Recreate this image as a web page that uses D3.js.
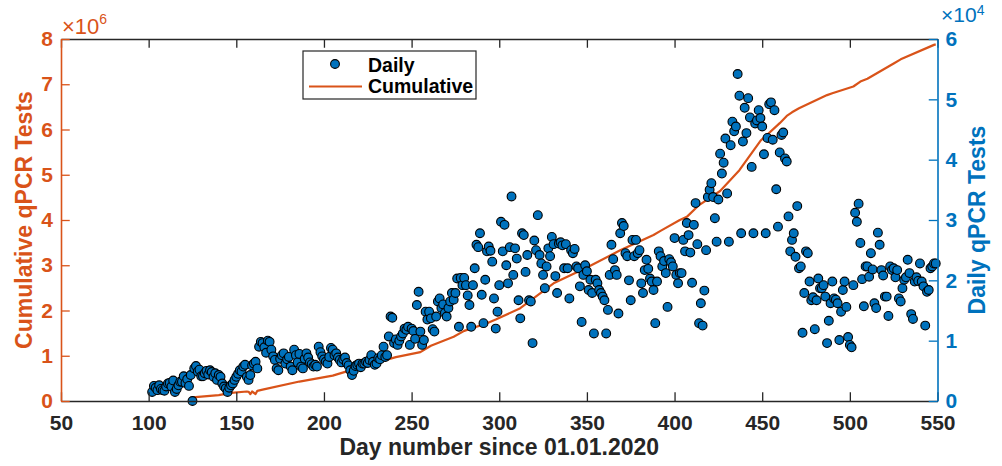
<!DOCTYPE html>
<html>
<head>
<meta charset="utf-8">
<script src="https://cdn.jsdelivr.net/npm/d3@7"></script>
<style>
  body { margin: 0; background: #fff; }
  svg { font-family: "Liberation Sans", Arial, sans-serif; }
</style>
</head>
<body>
<script>
// daily qPCR tests (thousands), one value per day starting at day 102
const dailyStartDay = 102;
const dailyK = [
  1.5,
  2.5, 2.2, 1.8, 2.6, 2.0, 1.8, 1.7,
  2.4, 2.9, 3.0, 2.4, 3.4, 1.5, 2.0,
  2.6, 3.2, 3.2, 4.1, 3.0, 3.6, 2.5,
  4.3, 0.0, 5.4, 5.8, 4.9, 5.2, 4.1,
  4.1, 4.6, 5.0, 4.4, 5.1, 4.8, 4.0,
  4.6, 3.5, 4.3, 4.0, 2.9, 2.4, 2.1,
  1.5, 2.2, 2.6, 2.9, 3.5, 4.0, 4.5,
  5.1, 4.9, 5.7, 6.0, 4.0, 3.5, 4.3,
  5.9, 6.2, 6.5, 5.4, 9.0, 9.8, 9.6,
  8.9, 8.0, 10.0, 9.8, 8.5, 7.4, 6.8,
  5.4, 5.1, 7.0, 7.6, 7.9, 6.2, 6.9,
  7.3, 5.7, 5.1, 8.5, 7.6, 6.4, 7.8,
  5.7, 5.4, 7.0, 7.9, 7.2, 6.4, 6.1,
  5.7, 6.0, 5.7, 9.0, 8.1, 7.4, 6.9,
  6.5, 6.2, 7.3, 8.8, 8.5, 7.6, 7.9,
  7.2, 6.8, 6.4, 6.9, 7.2, 6.3, 5.9,
  5.1, 4.3, 5.0, 5.8, 6.0, 6.2, 5.6,
  6.2, 6.2, 6.5, 6.3, 6.8, 7.6, 6.5,
  6.0, 6.2, 7.1, 6.9, 7.6, 9.0, 7.3,
  7.6, 10.7, 14.0, 13.8, 9.6, 10.2, 9.3,
  10.0, 10.7, 11.2, 12.0, 11.8, 12.3, 9.3,
  12.0, 11.6, 10.3, 15.9, 18.1, 11.5, 9.3,
  10.1, 14.8, 13.5, 14.8, 13.7, 11.9, 11.5,
  14.0, 16.5, 17.0, 15.4, 16.0, 14.6, 14.0,
  15.4, 16.5, 17.9, 16.8, 17.9, 20.3, 12.3,
  20.4, 19.2, 20.4, 19.2, 17.5, 15.9, 12.3,
  19.2, 22.0, 25.9, 25.5, 27.8, 17.6, 12.9,
  20.1, 24.8, 25.6, 24.9, 23.1, 17.0, 12.0,
  14.8, 19.2, 29.7, 24.8, 29.2, 22.5, 19.5,
  25.5, 33.9, 20.9, 25.3, 23.6, 16.7, 13.7,
  27.8, 27.5, 21.4, 24.2, 16.7, 16.5, 9.6,
  26.6, 25.0, 30.8, 24.2, 22.8, 20.9, 18.7,
  22.3, 25.3, 24.0, 27.2, 26.0, 20.7, 17.9,
  26.1, 26.3, 25.8, 22.0, 26.0, 22.0, 17.0,
  25.0, 24.5, 25.2, 22.3, 22.0, 19.0, 13.1,
  20.9, 22.5, 21.5, 18.4, 20.1, 17.9, 11.2,
  20.1, 19.5, 18.4, 17.9, 17.3, 16.7, 11.2,
  15.1, 20.9, 25.9, 23.5, 21.7, 20.9, 14.5,
  27.8, 29.5, 29.0, 24.5, 24.0, 20.0, 16.7,
  26.7, 24.0, 26.7, 24.5, 25.0, 19.5, 17.9,
  21.7, 23.4, 21.9, 20.3, 19.8, 18.4, 12.9,
  19.8, 24.8, 24.0, 22.3, 23.2, 21.2, 15.6,
  23.5, 23.0, 22.3, 27.0, 20.9, 19.5, 21.2,
  21.2, 26.7, 24.8, 29.5, 27.5, 24.6, 19.6,
  29.2, 32.8, 26.0, 12.9, 16.2, 12.5, 18.3,
  25.0, 33.8, 35.0, 36.1, 33.8, 30.3, 26.4,
  33.4, 41.0, 37.7, 39.5, 43.5, 34.4, 26.4,
  42.4, 46.3, 44.7, 45.5, 54.2, 50.6, 27.8,
  43.0, 48.6, 44.4, 50.2, 47.0, 38.8, 27.8,
  46.0, 46.5, 48.2, 46.9, 45.5, 40.9, 27.8,
  43.6, 49.2, 49.5, 43.3, 48.2, 35.1, 28.9,
  41.2, 44.1, 44.5, 40.2, 39.7, 30.6, 24.8,
  26.7, 27.8, 23.9, 32.3, 22.0, 22.3, 11.3,
  17.9, 24.8, 24.5, 19.8, 16.7, 17.2, 11.9,
  16.7, 20.3, 18.7, 18.7, 19.2, 17.3, 9.6,
  13.3, 16.2, 19.8, 17.0, 16.8, 16.2, 10.1,
  14.8, 18.4, 19.8, 15.6, 10.6, 9.3, 8.9,
  19.2, 31.2, 29.7, 32.7, 26.2, 20.2, 15.7,
  22.3, 22.3, 20.6, 24.5, 21.8, 16.2, 15.4,
  27.9, 25.9, 21.7, 20.8, 17.3, 17.3, 14.1,
  22.3, 21.7, 22.0, 20.5, 21.7, 17.0, 16.5,
  18.7, 20.1, 20.5, 23.4, 21.2, 14.4, 13.6,
  19.8, 20.5, 19.9, 22.8, 19.8, 19.0, 12.5,
  18.1, 18.4, 22.0, 22.3, 22.8, 22.8
];

// cumulative qPCR tests (millions)
const cumDays = [125, 140, 147, 156, 157, 158, 159, 161, 162, 165, 186, 205, 222, 241, 255, 261, 274, 280, 293, 298,
  312, 331, 350, 369, 388, 392, 403, 407, 414, 426, 437, 449, 460, 464, 467, 471, 487, 490, 502, 506, 510, 525, 529, 548, 549];
const cumM = [0.08, 0.13, 0.18, 0.21, 0.205, 0.15, 0.21, 0.155, 0.225, 0.25, 0.43, 0.56, 0.76, 0.97, 1.08, 1.22, 1.42, 1.55, 1.72, 1.80,
  2.05, 2.60, 2.95, 3.33, 3.67, 3.76, 4.00, 4.07, 4.33, 4.64, 5.10, 5.75, 6.14, 6.30, 6.38, 6.47, 6.76, 6.80, 6.95, 7.06, 7.12, 7.46, 7.55, 7.87, 7.88];

const xTicks = [50, 100, 150, 200, 250, 300, 350, 400, 450, 500, 550];
const leftTicks = [0, 1, 2, 3, 4, 5, 6, 7, 8];
const rightTicks = [0, 1, 2, 3, 4, 5, 6];

const orange = "#D95319", blue = "#0072BD", dark = "#262626";
const W = 1002, H = 466;
const L = 61, R = 937.5, T = 39, B = 401;
const tick = 8.75;

const svg = d3.select("body").append("svg")
  .attr("width", W).attr("height", H);

const x = d3.scaleLinear().domain([50, 550]).range([L, R]);
const yL = d3.scaleLinear().domain([0, 8e6]).range([B, T]);
const yR = d3.scaleLinear().domain([0, 6e4]).range([B, T]);

const daily = dailyK.map((v, i) => ({day: dailyStartDay + i, v: v * 1000}));
const cum = cumDays.map((d, i) => ({day: d, v: cumM[i] * 1e6}));

// cumulative line
const line = d3.line().x(d => x(d.day)).y(d => yL(d.v));
svg.append("path")
  .attr("d", line(cum))
  .attr("fill", "none")
  .attr("stroke", orange)
  .attr("stroke-width", 2.2)
  .attr("stroke-linejoin", "round");

// daily points
svg.append("g").selectAll("circle")
  .data(daily)
  .enter().append("circle")
  .attr("cx", d => x(d.day))
  .attr("cy", d => yR(d.v))
  .attr("r", 4.4)
  .attr("fill", blue)
  .attr("stroke", "#000")
  .attr("stroke-width", 1.1);

// axes
function styleAxis(g, color) {
  g.selectAll("path").attr("stroke", color).attr("stroke-width", 1.6);
  g.selectAll("line").attr("stroke", color).attr("stroke-width", 1.3);
  g.selectAll("text").attr("fill", color)
    .style("font-size", "21px").style("font-weight", "bold")
    .style("font-family", "'Liberation Sans', Arial, sans-serif");
}

const gx = svg.append("g").attr("transform", `translate(0,${B})`)
  .call(d3.axisBottom(x).tickValues(xTicks).tickSizeInner(-tick).tickSizeOuter(0).tickPadding(14));
styleAxis(gx, dark);

const gTop = svg.append("g").attr("transform", `translate(0,${T})`)
  .call(d3.axisTop(x).tickValues(xTicks).tickSizeInner(-tick).tickSizeOuter(0).tickFormat(""));
styleAxis(gTop, dark);

const gl = svg.append("g").attr("transform", `translate(${L},0)`)
  .call(d3.axisLeft(yL).tickValues(leftTicks.map(v => v * 1e6)).tickFormat(d => d / 1e6)
    .tickSizeInner(-tick).tickSizeOuter(0).tickPadding(8));
styleAxis(gl, orange);

const gr = svg.append("g").attr("transform", `translate(${R},0)`)
  .call(d3.axisRight(yR).tickValues(rightTicks.map(v => v * 1e4)).tickFormat(d => d / 1e4)
    .tickSizeInner(-tick).tickSizeOuter(0).tickPadding(8));
styleAxis(gr, blue);

// exponent labels
function expLabel(xp, yb, color, exp, size, up) {
  const t = svg.append("text").attr("x", xp).attr("y", yb).attr("fill", color)
    .style("font-size", size + "px");
  t.append("tspan").text("\u00d710");
  t.append("tspan").attr("dy", -up).style("font-size", "14px").text(exp);
}
expLabel(62, 34, orange, "6", 22, 10);
expLabel(941, 22, blue, "4", 21, 7);

// axis titles
svg.append("text")
  .attr("transform", `translate(32,${(T + B) / 2}) rotate(-90)`)
  .attr("text-anchor", "middle").attr("fill", orange)
  .style("font-size", "23px").style("font-weight", "bold")
  .text("Cumulative qPCR Tests");

svg.append("text")
  .attr("transform", `translate(985,${(T + B) / 2}) rotate(-90)`)
  .attr("text-anchor", "middle").attr("fill", blue)
  .style("font-size", "23px").style("font-weight", "bold")
  .text("Daily qPCR Tests");

svg.append("text")
  .attr("x", (L + R) / 2).attr("y", 455)
  .attr("text-anchor", "middle").attr("fill", dark)
  .style("font-size", "23px").style("font-weight", "bold")
  .text("Day number since 01.01.2020");

// legend
const lg = svg.append("g");
lg.append("rect").attr("x", 303).attr("y", 51).attr("width", 173).attr("height", 48)
  .attr("fill", "#fff").attr("stroke", dark).attr("stroke-width", 1.2);
lg.append("circle").attr("cx", 335).attr("cy", 64).attr("r", 4.4)
  .attr("fill", blue).attr("stroke", "#000").attr("stroke-width", 1.1);
lg.append("line").attr("x1", 309).attr("x2", 362).attr("y1", 86.5).attr("y2", 86.5)
  .attr("stroke", orange).attr("stroke-width", 2.2);
lg.selectAll("text.lab").data(["Daily", "Cumulative"]).enter().append("text")
  .attr("class", "lab")
  .attr("x", 368).attr("y", (d, i) => 72 + i * 21)
  .attr("fill", "#000")
  .style("font-size", "19.5px").style("font-weight", "bold")
  .text(d => d);
</script>
</body>
</html>
